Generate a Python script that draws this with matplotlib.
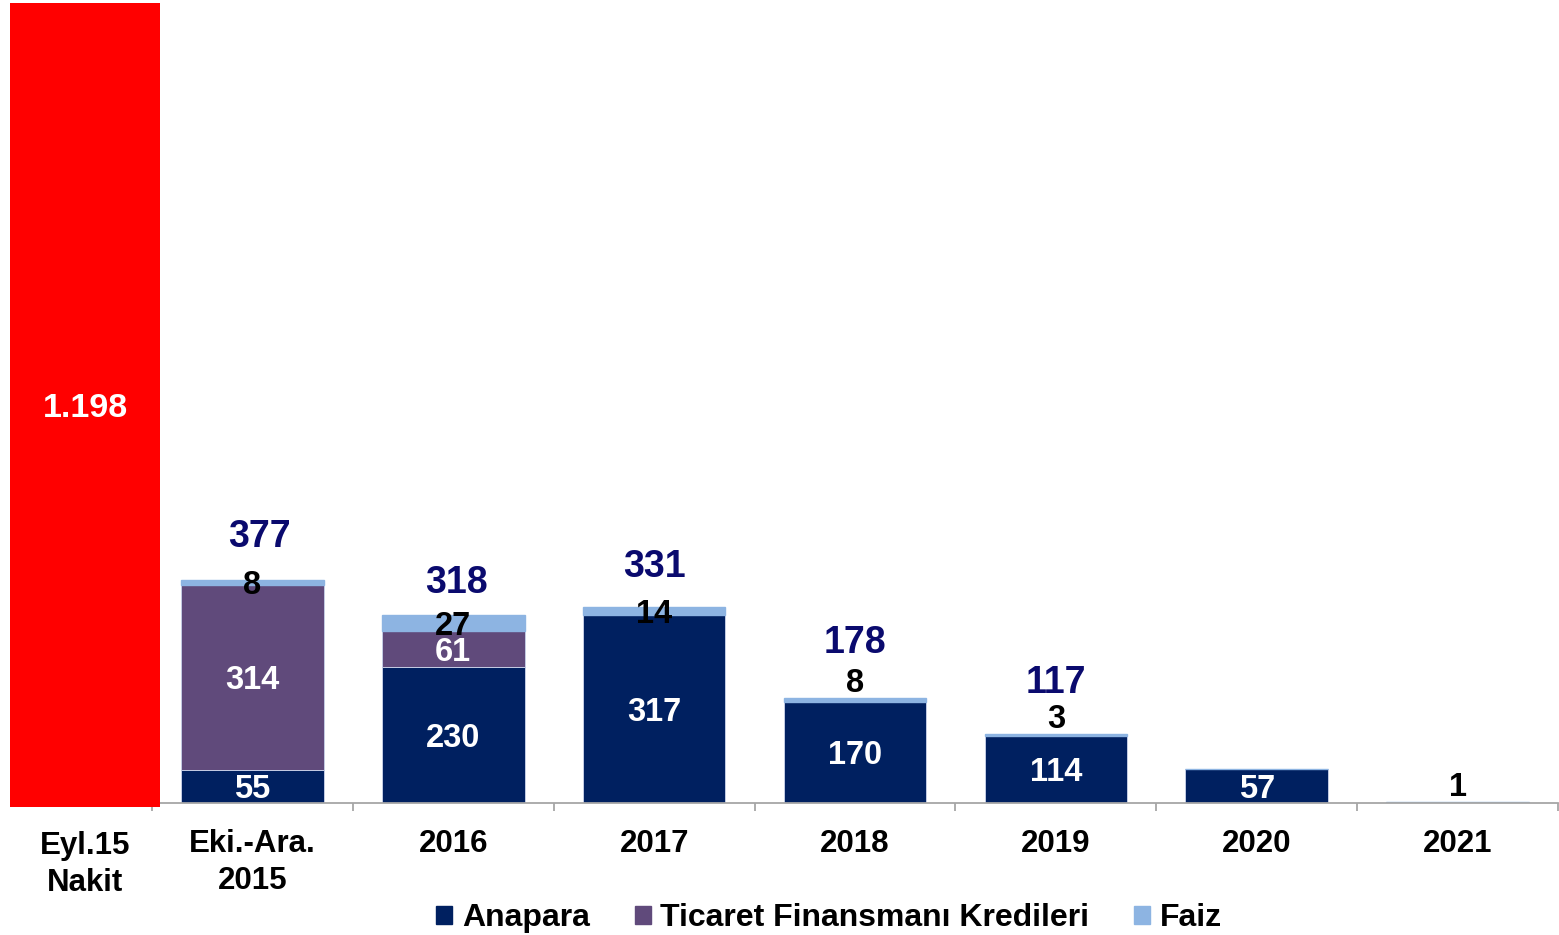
import matplotlib
matplotlib.use("Agg")
import matplotlib.pyplot as plt
from matplotlib.patches import Patch
import numpy as np

plt.rcParams["font.family"] = ["Liberation Sans", "DejaVu Sans"]
plt.rcParams["font.weight"] = "bold"

# Cash position (separate bar on the left)
cash_label = "Eyl.15\nNakit"
cash_value = 1198
cash_text = "1.198"

# Repayment schedule
periods = ["Eki.-Ara.\n2015", "2016", "2017", "2018", "2019", "2020", "2021"]
anapara = [55, 230, 317, 170, 114, 57, 0]
ticaret = [314, 61, 0, 0, 0, 0, 0]
faiz = [8, 27, 14, 8, 3, 0, 1]
show_total = [True, True, True, True, True, False, False]

# Label placement (styling)
faiz_label_inside = [True, True, True, False, False, False, False]
total_gap_pt = [24, 16, 22, 32, 29, 0, 0]
total_dx_pt = [5, 2, 0, 0, 0, 0, 0]

NAVY = "#002060"
PURPLE = "#604A7B"
LIGHT = "#8DB4E2"
RED = "#FF0000"
TOTAL = "#0A0A6E"
GRID = "#A6A6A6"
EDGE = "#C4CCE4"

SEG_SIZE = 23.5
CAP_SHIFT = -0.36 * SEG_SIZE  # puts digit centres on the anchor point

W, H = 1559, 935
fig = plt.figure(figsize=(W / 100, H / 100), dpi=100)

# Main stacked bars
ax = fig.add_axes([152 / W, (H - 803) / H, (1558 - 152) / W, 803 / H])
x = np.arange(len(periods))
a = np.array(anapara)
t = np.array(ticaret)
f = np.array(faiz)
bw = 0.71
ax.bar(x, a, bw, color=NAVY, edgecolor=EDGE, linewidth=0.7, zorder=2)
ax.bar(x, t, bw, bottom=a, color=PURPLE, edgecolor=EDGE, linewidth=0.7, zorder=2)
ax.bar(x, f, bw, bottom=a + t, color=LIGHT, edgecolor=LIGHT, linewidth=1.0, zorder=2)

ax.set_xlim(-0.5, len(periods) - 0.5)
ax.set_ylim(0, 1357)
for s in ("left", "top", "right"):
    ax.spines[s].set_visible(False)
ax.spines["bottom"].set_color(GRID)
ax.spines["bottom"].set_linewidth(1.3)
ax.set_yticks([])
ax.set_xticks(x)
ax.set_xticklabels(periods, fontsize=22.5, fontweight="bold", linespacing=1.3)
ax.tick_params(axis="x", which="major", length=0, pad=19)
ax.set_xticks(np.arange(-0.5, len(periods), 1.0), minor=True)
ax.tick_params(axis="x", which="minor", length=6, width=1.3, color=GRID)


def centred_label(axis, xv, yv, text, color):
    axis.annotate(text, (xv, yv), xytext=(0, CAP_SHIFT), textcoords="offset points",
                  ha="center", va="baseline", fontsize=SEG_SIZE, fontweight="bold",
                  color=color, zorder=3)


for i in range(len(periods)):
    if a[i] > 0:
        centred_label(ax, x[i], a[i] / 2, str(a[i]), "white")
    if t[i] > 0:
        centred_label(ax, x[i], a[i] + t[i] / 2, str(t[i]), "white")
    if f[i] > 0:
        if faiz_label_inside[i]:
            centred_label(ax, x[i], a[i] + t[i] + f[i] / 2, str(f[i]), "black")
        else:
            ax.annotate(str(f[i]), (x[i], a[i] + t[i] + f[i]), xytext=(0, 4.3),
                        textcoords="offset points", ha="center", va="baseline",
                        fontsize=SEG_SIZE, fontweight="bold", color="black")
    if show_total[i]:
        total = a[i] + t[i] + f[i]
        ax.annotate(str(total), (x[i], total),
                    xytext=(total_dx_pt[i], total_gap_pt[i]),
                    textcoords="offset points", ha="center", va="baseline",
                    fontsize=27, fontweight="bold", color=TOTAL)

# Cash bar on its own axes
axc = fig.add_axes([10 / W, (H - 807) / H, 150 / W, 804 / H])
axc.bar([0], [cash_value], width=1.0, color=RED, zorder=2)
axc.set_xlim(-0.5, 0.5)
axc.set_ylim(0, cash_value)
for s in axc.spines.values():
    s.set_visible(False)
axc.set_yticks([])
axc.set_xticks([0])
axc.set_xticklabels([cash_label], fontsize=22.5, fontweight="bold", linespacing=1.3)
axc.tick_params(axis="x", length=0, pad=17)
axc.annotate(cash_text, (0, cash_value / 2), xytext=(0, -0.36 * 24.5),
             textcoords="offset points", ha="center", va="baseline",
             color="white", fontsize=24.5, fontweight="bold")

handles = [Patch(color=NAVY, label="Anapara"),
           Patch(color=PURPLE, label="Ticaret Finansmanı Kredileri"),
           Patch(color=LIGHT, label="Faiz")]
fig.legend(handles=handles, loc="center", bbox_to_anchor=(829 / W, (H - 918) / H),
           ncol=3, frameon=False, prop=dict(size=23, weight="bold"),
           handlelength=0.5, handleheight=0.5, handletextpad=0.3,
           columnspacing=1.4, borderpad=0, borderaxespad=0)

fig.savefig("out.png", dpi=100)
